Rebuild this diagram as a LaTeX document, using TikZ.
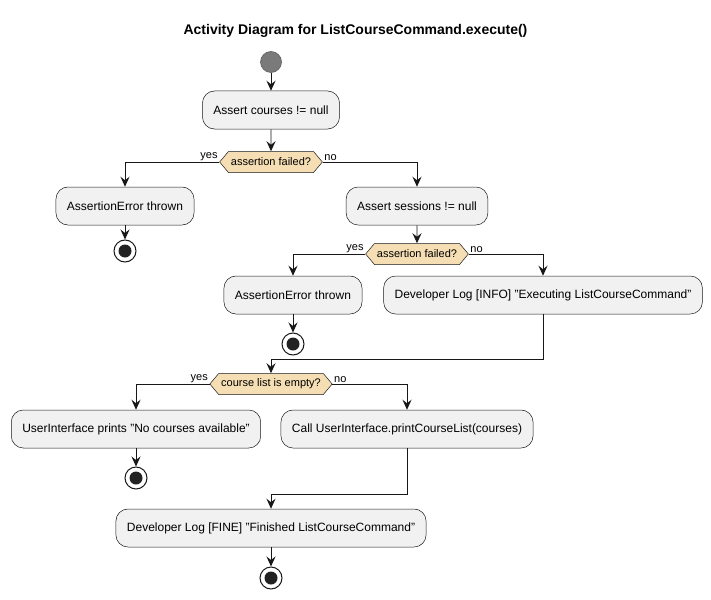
\documentclass[tikz,border=0pt]{standalone}
\usepackage{fontspec}
\setmainfont{Liberation Sans}
\usetikzlibrary{arrows.meta,shapes.symbols}
\newcommand{\dq}{\symbol{34}}
\definecolor{boxfill}{HTML}{F1F1F1}
\definecolor{boxline}{HTML}{181818}
\definecolor{decfill}{HTML}{F5DEB3}
\definecolor{startfill}{HTML}{7A7A7A}
\definecolor{endfill}{HTML}{222222}
\tikzset{
  act/.style={draw=boxline, line width=0.5pt, fill=boxfill, rounded corners=12pt,
    minimum height=38pt, inner xsep=11pt, font=\fontsize{12}{14}\selectfont},
  dec/.style={signal, signal to=west and east, signal pointer angle=100,
    draw=boxline, line width=0.5pt, fill=decfill, minimum height=21pt, inner xsep=2.5pt, inner ysep=1pt,
    font=\fontsize{11}{13}\selectfont},
  startnode/.style={circle, draw=boxline!70, line width=0.6pt, fill=startfill, minimum size=21pt, inner sep=0pt},
  endnode/.style={circle, draw=boxline, line width=1pt, fill=white, minimum size=22pt, inner sep=0pt,
    path picture={\fill[endfill] (path picture bounding box.center) circle (6.5pt);}},
  arr/.style={draw=boxline, line width=0.9pt, -{Stealth[length=10pt,width=9pt,inset=3.5pt]}},
  lin/.style={draw=boxline, line width=0.9pt},
  lbl/.style={font=\fontsize{11}{13}\selectfont, inner sep=1.5pt},
  ttl/.style={font=\bfseries\fontsize{14}{16}\selectfont}
}
\begin{document}
\begin{tikzpicture}[x=1pt,y=-1pt]
\useasboundingbox (0,0) rectangle (711,599);
\node[ttl] (title) at (355.5,31) {Activity Diagram for ListCourseCommand.execute()};
\node[startnode] (start) at (271,62) {};
\node[act] (a1) at (271,110) {Assert courses != null};
\node[dec] (d1) at (271,162) {assertion failed?};
\node[act] (e1) at (125,206) {AssertionError thrown};
\node[endnode] (x1) at (125,251) {};
\node[act] (a2) at (417,206) {Assert sessions != null};
\node[dec] (d2) at (417,254) {assertion failed?};
\node[act] (e2) at (293,295) {AssertionError thrown};
\node[endnode] (x2) at (293,344) {};
\node[act] (info) at (543,295) {Developer Log [INFO] \dq Executing ListCourseCommand\dq};
\coordinate (m1) at (271,359);
\node[dec] (d3) at (271,384) {course list is empty?};
\node[act] (np) at (136,429) {UserInterface prints \dq No courses available\dq};
\node[endnode] (x3) at (136,478) {};
\node[act] (call) at (407,429) {Call UserInterface.printCourseList(courses)};
\coordinate (m2) at (271,494);
\node[act] (fine) at (271,528) {Developer Log [FINE] \dq Finished ListCourseCommand\dq};
\node[endnode] (x4) at (271,578) {};

\draw[arr] (start) -- (a1);
\draw[arr] (a1) -- (d1);
\draw[arr] (d1.west) -| (e1.north);
\node[lbl, anchor=south east] at (d1.west) {yes};
\draw[arr] (d1.east) -| (a2.north);
\node[lbl, anchor=south west] at (d1.east) {no};
\draw[arr] (e1) -- (x1);
\draw[arr] (a2) -- (d2);
\draw[arr] (d2.west) -| (e2.north);
\node[lbl, anchor=south east] at (d2.west) {yes};
\draw[arr] (d2.east) -| (info.north);
\node[lbl, anchor=south west] at (d2.east) {no};
\draw[arr] (e2) -- (x2);
\draw[lin] (info.south) |- (m1);
\draw[arr] (m1) -- (d3.north);
\draw[arr] (d3.west) -| (np.north);
\node[lbl, anchor=south east] at (d3.west) {yes};
\draw[arr] (d3.east) -| (call.north);
\node[lbl, anchor=south west] at (d3.east) {no};
\draw[arr] (np) -- (x3);
\draw[lin] (call.south) |- (m2);
\draw[arr] (m2) -- (fine.north);
\draw[arr] (fine) -- (x4);
\end{tikzpicture}
\end{document}
